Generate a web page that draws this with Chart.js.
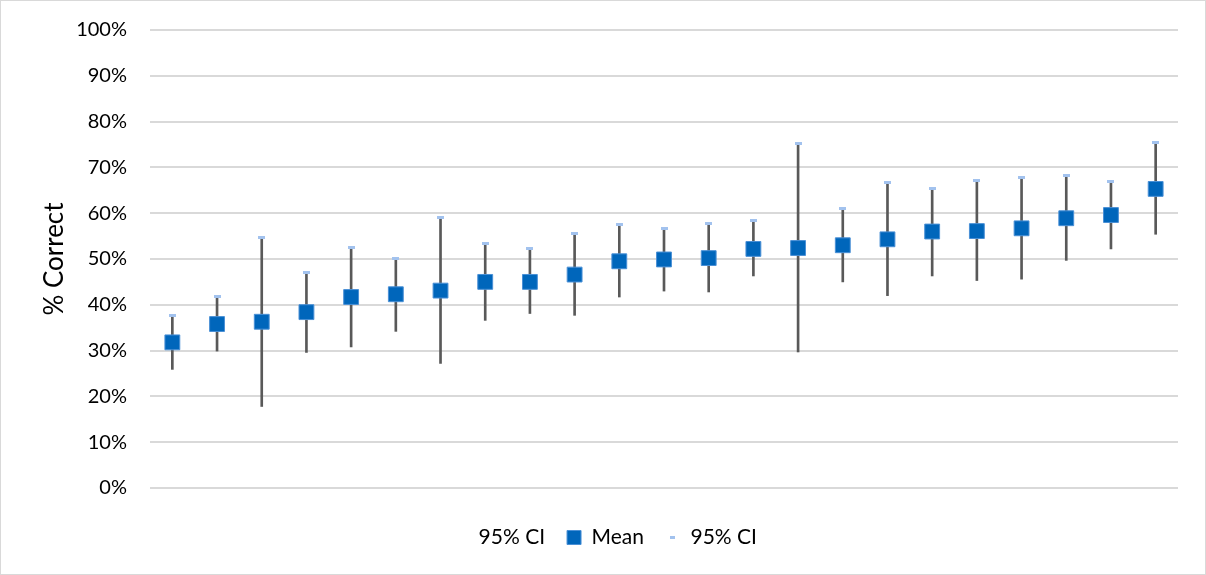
<!DOCTYPE html>
<html>
<head>
<meta charset="utf-8">
<script src="https://cdn.jsdelivr.net/npm/chart.js@4/dist/chart.umd.min.js"></script>
<style>
  html, body { margin: 0; padding: 0; background: #fff; }
  #wrap { position: relative; width: 1206px; height: 575px; box-sizing: border-box; border: 1px solid #d9d9d9; }
  #chart { display: block; }
</style>
</head>
<body>
<div id="wrap"><canvas id="chart" width="1204" height="573"></canvas></div>
<script>
// ---- data (percent) ----
const categories = ["1","2","3","4","5","6","7","8","9","10","11","12","13","14","15","16","17","18","19","20","21","22","23"];
const meanValues  = [31.8, 35.8, 36.3, 38.4, 41.7, 42.3, 43.1, 45.0, 45.0, 46.6, 49.5, 49.9, 50.2, 52.2, 52.4, 53.0, 54.3, 56.0, 56.1, 56.7, 58.9, 59.6, 65.3];
const lowerCI     = [25.9, 29.9, 17.8, 29.6, 30.8, 34.2, 27.2, 36.6, 38.1, 37.7, 41.7, 43.0, 42.8, 46.3, 29.7, 45.0, 42.0, 46.3, 45.3, 45.6, 49.7, 52.2, 55.4];
const upperCI     = [37.7, 41.9, 54.7, 47.1, 52.6, 50.2, 59.0, 53.4, 52.2, 55.6, 57.5, 56.7, 57.8, 58.3, 75.2, 61.1, 66.7, 65.4, 67.2, 67.7, 68.2, 67.0, 75.4];
const yTicks      = [0, 10, 20, 30, 40, 50, 60, 70, 80, 90, 100];

// small light-blue dash used as the upper CI marker
function makeDash(w, h, color) {
    const c = document.createElement("canvas");
    c.width = w;
    c.height = h;
    const g = c.getContext("2d");
    g.fillStyle = color;
    g.fillRect(0, 0, w, h);
    return c;
}
const dash = makeDash(7, 3, "#a2c2ee");
const dashLegend = makeDash(5, 3, "#a2c2ee");

const FONT = "Lato, 'Open Sans', sans-serif";

// nudge the legend a bit to the right (Excel keeps an empty symbol slot for the first entry)
const legendShift = {
    id: "legendShift",
    afterLayout(chart) {
        chart.legend.left += 16;
        chart.legend.right += 16;
    }
};

new Chart(document.getElementById("chart"), {
    type: "bar",
    data: {
        labels: categories,
        datasets: [
            {
                type: "line",
                label: "95% CI",
                data: lowerCI,
                showLine: false,
                pointRadius: 0,
                pointHoverRadius: 0,
                order: 2
            },
            {
                type: "line",
                label: "Mean",
                data: meanValues,
                showLine: false,
                pointStyle: "rect",
                pointRadius: 10.5,
                pointHoverRadius: 10.5,
                backgroundColor: "#0066bb",
                borderColor: "#4a90d6",
                pointBorderWidth: 1,
                order: 0
            },
            {
                type: "line",
                label: "95% CI",
                data: upperCI,
                showLine: false,
                pointStyle: dash,
                pointRadius: 3,
                order: 1
            },
            {
                type: "bar",
                label: "range",
                data: lowerCI.map((lo, i) => [lo, upperCI[i]]),
                backgroundColor: "#595959",
                barThickness: 2,
                order: 3
            }
        ]
    },
    plugins: [legendShift],
    options: {
        responsive: false,
        animation: false,
        layout: { padding: { top: 29, right: 27, bottom: 16, left: 0 } },
        plugins: {
            tooltip: { enabled: false },
            legend: {
                position: "bottom",
                labels: {
                    usePointStyle: true,
                    boxWidth: 14,
                    boxHeight: 14,
                    padding: 22,
                    color: "#000",
                    font: { family: FONT, size: 21 },
                    generateLabels: (chart) => {
                        const items = Chart.defaults.plugins.legend.labels.generateLabels(chart)
                            .filter(it => it.datasetIndex !== 3)
                            .sort((a, b) => a.datasetIndex - b.datasetIndex);
                        items.forEach(it => {
                            if (it.datasetIndex === 0) {
                                it.fillStyle = "rgba(0,0,0,0)";
                                it.strokeStyle = "rgba(0,0,0,0)";
                                it.pointStyle = makeDash(1, 1, "rgba(0,0,0,0)");
                            } else if (it.datasetIndex === 1) {
                                it.pointStyle = "rect";
                                it.fillStyle = "#0066bb";
                                it.strokeStyle = "#4a90d6";
                                it.lineWidth = 1;
                            } else {
                                it.pointStyle = dashLegend;
                            }
                        });
                        return items;
                    }
                }
            }
        },
        scales: {
            x: {
                display: true,
                grid: { display: false },
                border: { display: false },
                ticks: { display: false },
                afterFit: (scale) => { scale.height = 17; }
            },
            y: {
                min: 0,
                max: 100,
                afterFit: (scale) => {
                    scale.width = 149;
                    scale.paddingTop = 0;
                    scale.paddingBottom = 0;
                },
                afterBuildTicks: (scale) => { scale.ticks = yTicks.map(v => ({ value: v })); },
                border: { display: false },
                grid: { color: "#d9d9d9", lineWidth: 2, drawTicks: false },
                ticks: {
                    padding: 23,
                    color: "#000",
                    font: { family: FONT, size: 20 },
                    callback: (v) => v + "%"
                },
                title: {
                    display: true,
                    text: "% Correct",
                    color: "#000",
                    font: { family: FONT, size: 26 },
                    padding: { top: 38, bottom: 0 }
                }
            }
        }
    }
});
</script>
</body>
</html>
